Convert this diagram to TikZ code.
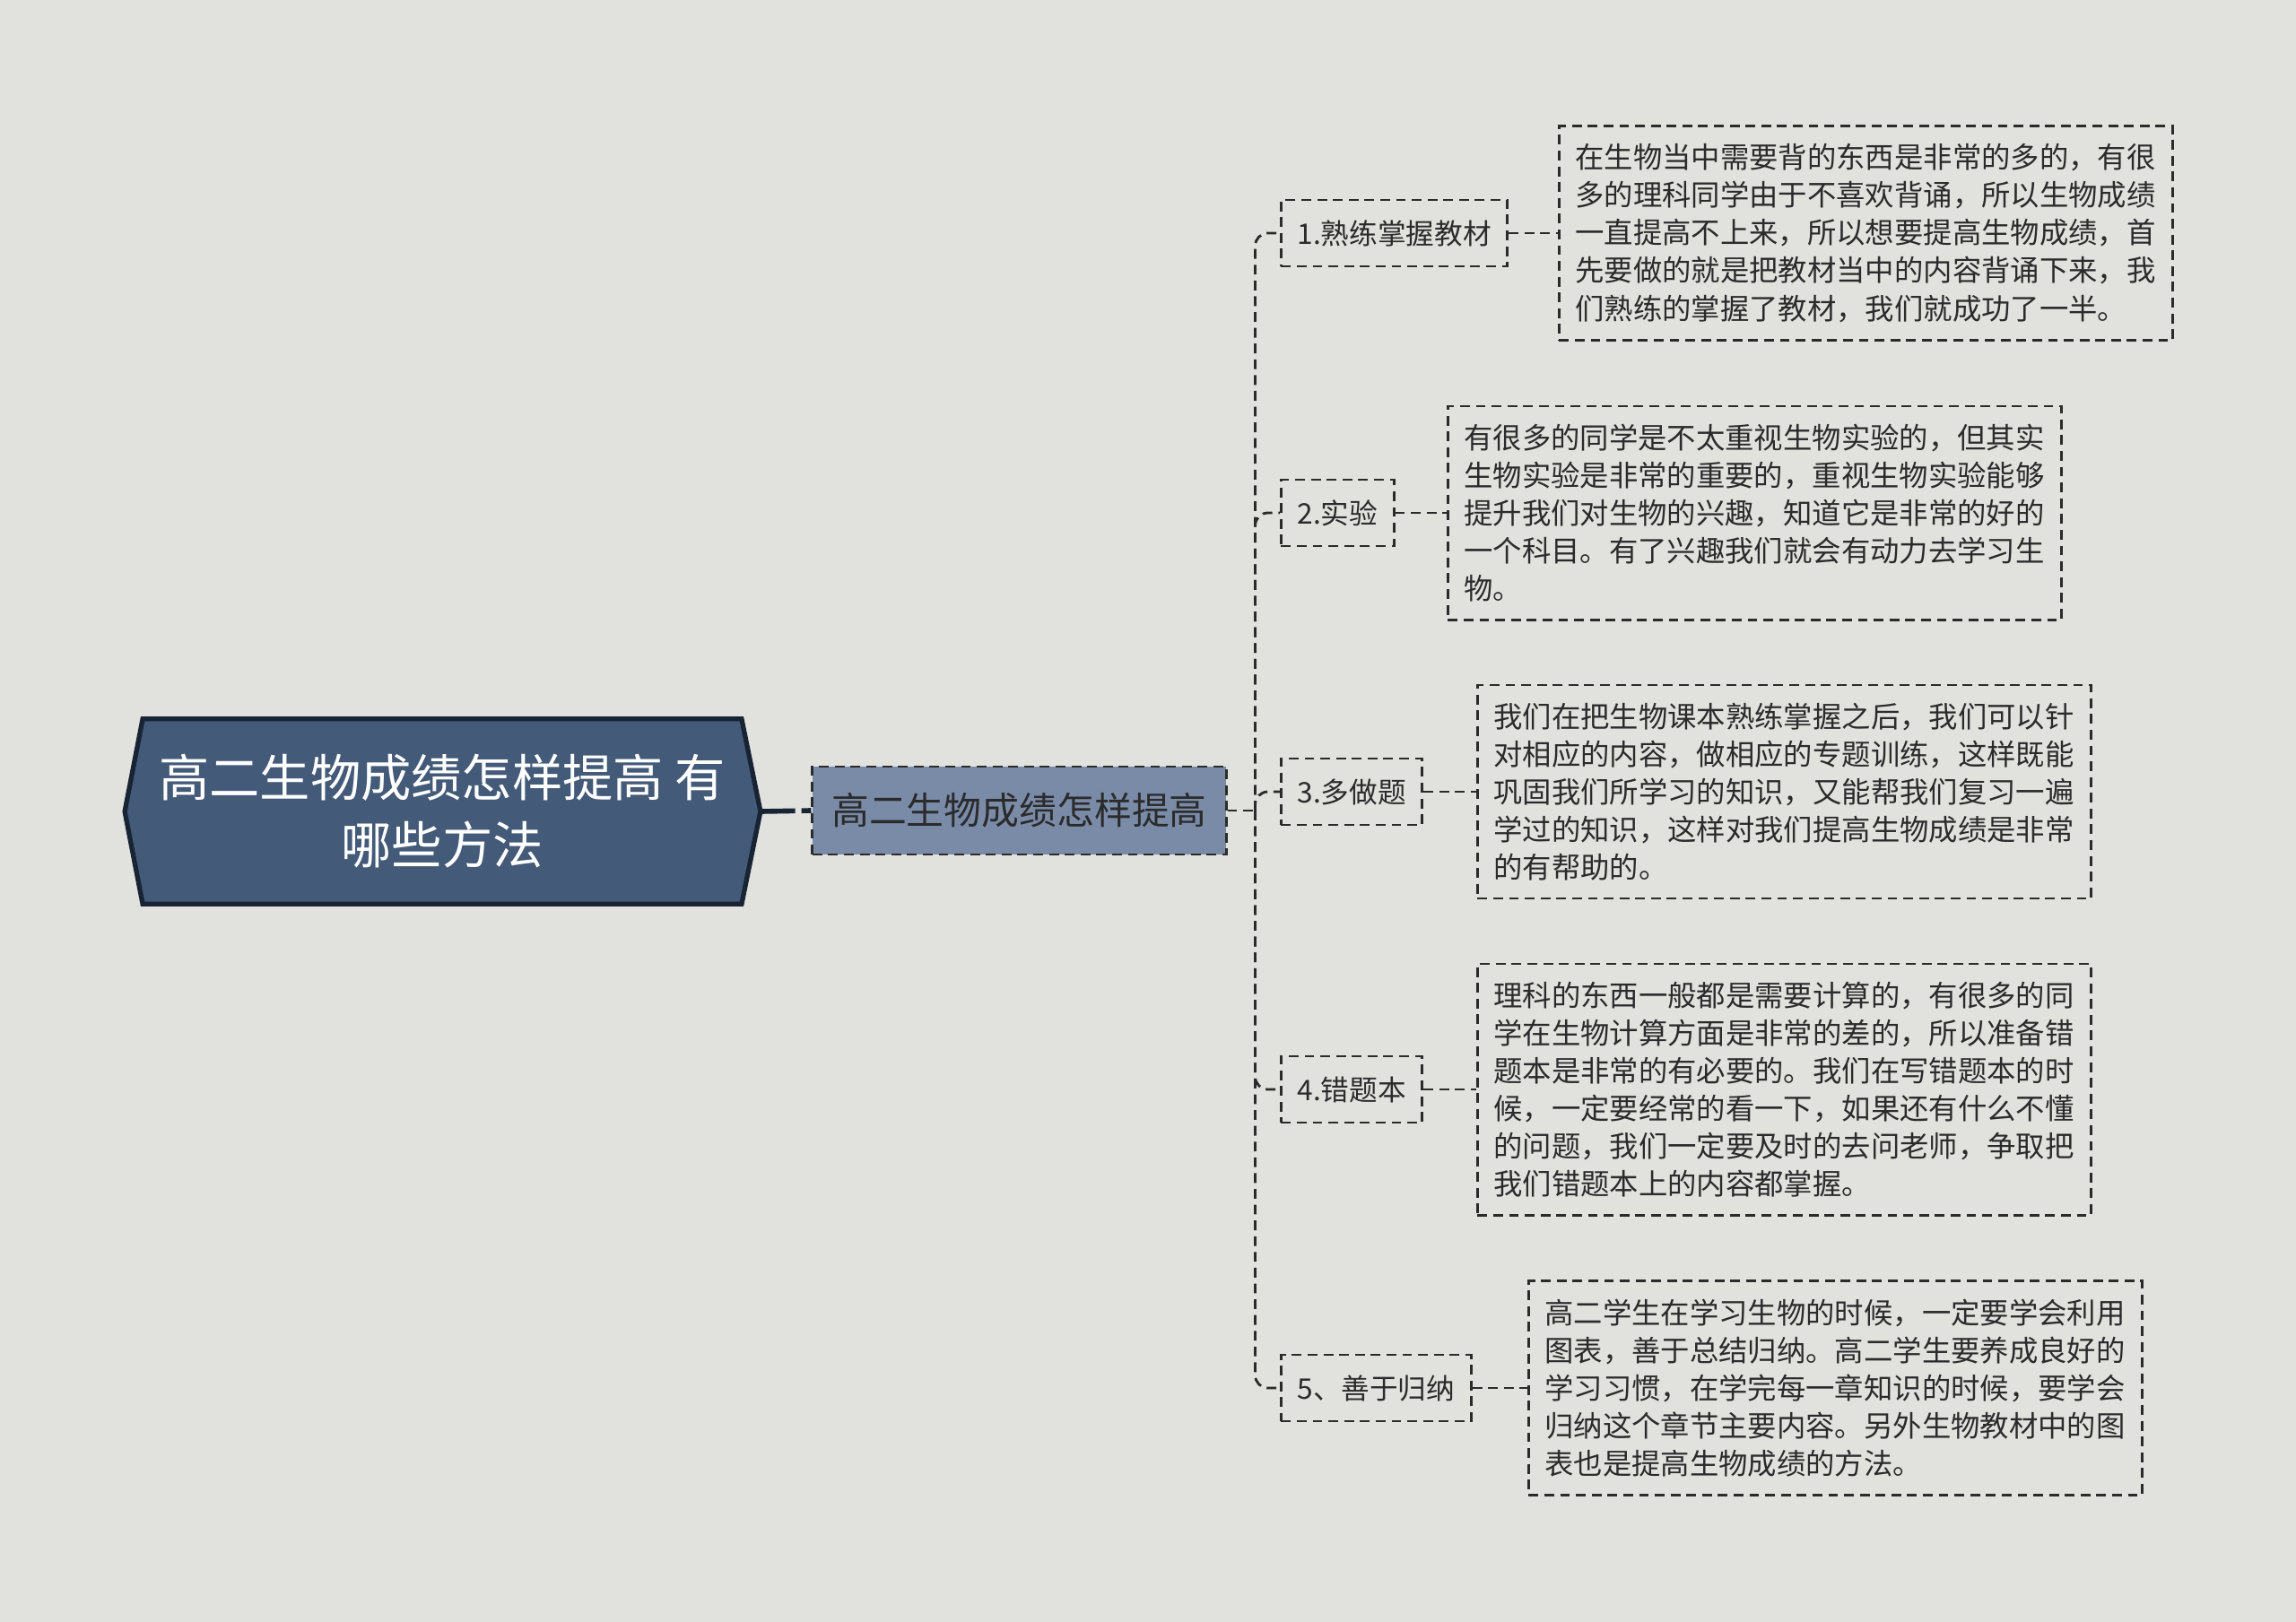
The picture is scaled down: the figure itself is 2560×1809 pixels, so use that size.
\documentclass[tikz,border=0pt]{standalone}
\usepackage{fontspec}
\setmainfont{Noto Sans CJK SC}
\usetikzlibrary{positioning,calc,backgrounds}
\definecolor{pagebg}{HTML}{E1E2DD}
\definecolor{rootfill}{HTML}{435A78}
\definecolor{rootline}{HTML}{182334}
\definecolor{subfill}{HTML}{7A8BA8}
\definecolor{inkgray}{HTML}{2B2B2B}

\begin{document}
\begin{tikzpicture}[
  x=0.01cm, y=-0.01cm,
  dashbox/.style={draw=inkgray, line width=0.8pt, dash pattern=on 3.1pt off 1.9pt},
  roottext/.style={minimum width=6.66cm, minimum height=2.05cm, align=center, text=white,
    font=\fontsize{16pt}{21.3pt}\selectfont},
  subbox/.style={dashbox, fill=subfill, minimum width=4.61cm, minimum height=0.98cm,
    text=inkgray, font=\fontsize{11.9pt}{14pt}\selectfont},
  topic/.style={dashbox, anchor=west, text=inkgray, inner xsep=0.18cm, minimum height=0.74cm,
    font=\fontsize{9pt}{11pt}\selectfont},
  detail/.style={dashbox, anchor=west, text width=6.48cm, align=left, inner xsep=0.18cm,
    inner ysep=0.2cm, text=inkgray, font=\fontsize{9.2pt}{11.95pt}\selectfont},
  link/.style={draw=inkgray, line width=0.8pt, dash pattern=on 3.1pt off 1.9pt},
]
  \useasboundingbox (0,0) rectangle (2560,1809);

  % Root
  \node[roottext] (root) at (493,905) {高二生物成绩怎样提高 有\\哪些方法};
  \coordinate (rootpt) at ([xshift=0.21cm]root.east);
  \begin{scope}[on background layer]
    \fill[pagebg] (0,0) rectangle (2560,1809);
    \draw[fill=rootfill, draw=rootline, line width=1.5pt, line join=miter]
      (root.north west) -- (root.north east) -- (rootpt) -- (root.south east)
      -- (root.south west) -- ([xshift=-0.2cm]root.west) -- cycle;
  \end{scope}

  % Second level
  \node[subbox] (sub) at (1136.5,904) {高二生物成绩怎样提高};
  \draw[draw=rootline, line width=1.6pt, dash pattern=on 11pt off 2pt] (rootpt) -- (sub.west);
  \coordinate (hub) at ([xshift=0.31cm]sub.east);
  \draw[link] (sub.east) -- (hub);

  % Topics
  \node[topic] (t1) at (1427,260) {1.熟练掌握教材};
  \node[topic] (t2) at (1427,572) {2.实验};
  \node[topic] (t3) at (1427,883) {3.多做题};
  \node[topic] (t4) at (1427,1215) {4.错题本};
  \node[topic] (t5) at (1427,1548) {5、善于归纳};

  \foreach \t in {t1,t2,t3,t4,t5}
    \draw[link, rounded corners=4pt] (hub) |- (\t.west);

  % Details
  \node[detail] (d1) at (1737,260) {在生物当中需要背的东西是非常的多的，有很\\多的理科同学由于不喜欢背诵，所以生物成绩\\一直提高不上来，所以想要提高生物成绩，首\\先要做的就是把教材当中的内容背诵下来，我\\们熟练的掌握了教材，我们就成功了一半。};
  \node[detail] (d2) at (1613,572) {有很多的同学是不太重视生物实验的，但其实\\生物实验是非常的重要的，重视生物实验能够\\提升我们对生物的兴趣，知道它是非常的好的\\一个科目。有了兴趣我们就会有动力去学习生\\物。};
  \node[detail] (d3) at (1646,883) {我们在把生物课本熟练掌握之后，我们可以针\\对相应的内容，做相应的专题训练，这样既能\\巩固我们所学习的知识，又能帮我们复习一遍\\学过的知识，这样对我们提高生物成绩是非常\\的有帮助的。};
  \node[detail] (d4) at (1646,1215) {理科的东西一般都是需要计算的，有很多的同\\学在生物计算方面是非常的差的，所以准备错\\题本是非常的有必要的。我们在写错题本的时\\候，一定要经常的看一下，如果还有什么不懂\\的问题，我们一定要及时的去问老师，争取把\\我们错题本上的内容都掌握。};
  \node[detail] (d5) at (1703,1548) {高二学生在学习生物的时候，一定要学会利用\\图表，善于总结归纳。高二学生要养成良好的\\学习习惯，在学完每一章知识的时候，要学会\\归纳这个章节主要内容。另外生物教材中的图\\表也是提高生物成绩的方法。};

  \foreach \i in {1,...,5}
    \draw[link] (t\i.east) -- (d\i.west);
\end{tikzpicture}
\end{document}
